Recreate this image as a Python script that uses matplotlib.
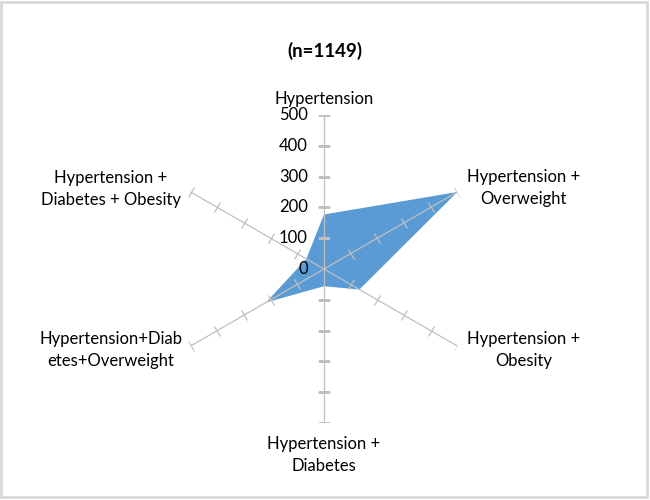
import numpy as np
import matplotlib
matplotlib.use("Agg")
import matplotlib.pyplot as plt
from matplotlib.markers import MarkerStyle
from matplotlib.transforms import Affine2D
from matplotlib.patches import Rectangle

# --- data ---
categories = [
    "Hypertension",
    "Hypertension +\nOverweight",
    "Hypertension +\nObesity",
    "Hypertension +\nDiabetes",
    "Hypertension+Diab\netes+Overweight",
    "Hypertension +\nDiabetes + Obesity",
]
counts = [177, 500, 133, 56, 217, 66]
r_ticks = [0, 100, 200, 300, 400, 500]
title = "(n=1149)"

# label offsets in pixels from the spoke ends
label_offsets = [(0, 16), (66, 4), (66, -4), (0, -32), (-80, -4), (-80, 3)]

FILL = "#5B9BD5"
SPOKE = "#BFBFBF"

plt.rcParams["font.family"] = ["Lato", "DejaVu Sans"]

fig = plt.figure(figsize=(6.5, 5), dpi=100)
ax = fig.add_axes([0.2615, 0.154, 0.4738, 0.616], projection="polar")
ax.set_theta_zero_location("N")
ax.set_theta_direction(-1)
ax.set_ylim(0, r_ticks[-1])
ax.grid(False)
ax.spines["polar"].set_visible(False)
ax.set_xticks([])
ax.set_yticks([])
ax.patch.set_alpha(0)

angles = np.deg2rad(np.arange(len(categories)) * 360 / len(categories))

# filled area
ax.fill(np.append(angles, angles[0]), counts + counts[:1],
        color=FILL, lw=0, zorder=1)

# spokes with cross ticks
for ang in angles:
    ax.plot([ang, ang], [0, r_ticks[-1]], color=SPOKE, lw=0.9, zorder=2)
    mk = MarkerStyle("_", transform=Affine2D().rotate_deg(-np.rad2deg(ang)))
    ax.plot([ang] * (len(r_ticks) - 1), r_ticks[1:], ls="none", marker=mk,
            ms=8.5, mew=0.9, color=SPOKE, zorder=2)

# value labels along the top spoke
for r in r_ticks:
    ax.annotate(str(r), (0, r), xytext=(-16, 0), textcoords="offset pixels",
                ha="right", va="center", fontsize=12, color="#000000")

# category labels
for ang, lab, off in zip(angles, categories, label_offsets):
    ax.annotate(lab, (ang, r_ticks[-1]), xytext=off, textcoords="offset pixels",
                ha="center", va="center", multialignment="center",
                fontsize=12, linespacing=1.45, annotation_clip=False)

fig.text(325 / 650, 1 - 51 / 500, title, ha="center", va="center",
         fontsize=13.5, fontweight="bold")

fig.patches.append(Rectangle((1 / 650, 3 / 500), 646 / 650, 495 / 500,
                             transform=fig.transFigure, fill=False,
                             edgecolor="#D9D9D9", lw=2))

fig.savefig("out.png", dpi=100)
